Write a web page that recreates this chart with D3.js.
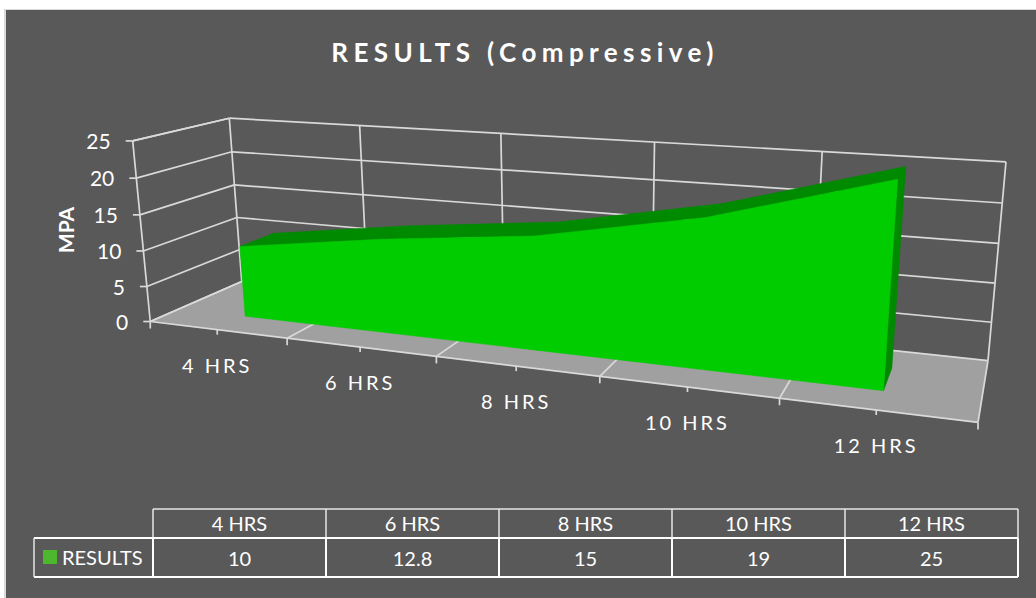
<!DOCTYPE html>
<html>
<head>
<meta charset="utf-8">
<script src="https://cdn.jsdelivr.net/npm/d3@7"></script>
<style>
html, body { margin: 0; padding: 0; background: #fff; }
text { font-family: Lato, "Open Sans", sans-serif; fill: #fff; }
</style>
</head>
<body>
<svg id="chart" width="1036" height="598" style="display:block"></svg>
<script>
var categories = ["4 HRS", "6 HRS", "8 HRS", "10 HRS", "12 HRS"];
var results = [10, 12.8, 15, 19, 25];
var valueTicks = [0, 5, 10, 15, 20, 25];
var tableRowLabel = "RESULTS";
var tableValues = ["10", "12.8", "15", "19", "25"];

var svg = d3.select("#chart");
svg.append("rect").attr("x", 4).attr("y", 9).attr("width", 1032).attr("height", 589).attr("fill", "#d9d9d9");
svg.append("rect").attr("x", 6).attr("y", 10).attr("width", 1030).attr("height", 588).attr("fill", "#595959");

// title
svg.append("text").attr("x", 525).attr("y", 62).attr("text-anchor", "middle")
	.style("font-size", "26px").style("font-weight", "bold").style("letter-spacing", "5.4px")
	.text("RESULTS (Compressive)");

// perspective box, fitted to the box corners: [u, v, w, screen x, screen y]
var corners = [
	[0, 0, 0, 150, 321], [1, 0, 0, 978, 423],
	[0, 1, 0, 242, 282], [1, 1, 0, 988, 360],
	[0, 0, 1, 133, 141], [0, 1, 1, 229, 118], [1, 1, 1, 1006, 162]
];

function solve(A, b){
	var n = b.length, M = A.map(function(r, i){ return r.concat(b[i]); });
	for (var i = 0; i < n; i++){
		var p = i;
		for (var k = i + 1; k < n; k++) if (Math.abs(M[k][i]) > Math.abs(M[p][i])) p = k;
		var t = M[i]; M[i] = M[p]; M[p] = t;
		for (var k = 0; k < n; k++){
			if (k == i) continue;
			var f = M[k][i] / M[i][i];
			for (var j = i; j <= n; j++) M[k][j] -= f * M[i][j];
		}
	}
	return M.map(function(r, i){ return r[n] / r[i]; });
}

// least squares for the 11 camera parameters
var rows = [], rhs = [];
corners.forEach(function(c){
	rows.push([c[0], c[1], c[2], 1, 0, 0, 0, 0, -c[3]*c[0], -c[3]*c[1], -c[3]*c[2]]); rhs.push(c[3]);
	rows.push([0, 0, 0, 0, c[0], c[1], c[2], 1, -c[4]*c[0], -c[4]*c[1], -c[4]*c[2]]); rhs.push(c[4]);
});
var ata = d3.range(11).map(function(i){ return d3.range(11).map(function(j){ return d3.sum(rows, function(r){ return r[i]*r[j]; }); }); });
var atb = d3.range(11).map(function(i){ return d3.sum(rows, function(r, k){ return r[i]*rhs[k]; }); });
var cam = solve(ata, atb);

function project(u, v, w){
	var d = cam[8]*u + cam[9]*v + cam[10]*w + 1;
	return [(cam[0]*u + cam[1]*v + cam[2]*w + cam[3]) / d, (cam[4]*u + cam[5]*v + cam[6]*w + cam[7]) / d];
}

var xScale = d3.scalePoint().domain(categories).range([0.1, 0.9]);
var yScale = d3.scaleLinear().domain([0, 25]).range([0, 1]);
var line = d3.line();
var gridColor = "#d9d9d9";

function seg(a, b, w, color){
	svg.append("path").attr("d", line([a, b])).attr("fill", "none")
		.attr("stroke", color || gridColor).attr("stroke-width", w || 1.7);
}
function poly(pts, fill){
	svg.append("path").attr("d", line(pts) + "Z").attr("fill", fill).attr("stroke", fill).attr("stroke-width", 0.5);
}

// floor
poly([project(0,0,0), project(1,0,0), project(1,1,0), project(0,1,0)], "#a0a0a0");

// walls
seg(project(0,1,0), project(0,1,1));
seg(project(1,1,0), project(1,1,1));
seg(project(0,0,0), project(0,0,1));
seg(project(0,0,1), project(0,1,1));
seg(project(0,0,0), project(0,1,0));
seg(project(1,1,0), project(1,0,0));
valueTicks.forEach(function(t){
	var w = yScale(t);
	seg(project(0,1,w), project(1,1,w));
	seg(project(0,1,w), project(0,0,w));
	var p = project(0,0,w);
	seg(p, [p[0] - 7, p[1]]);
	svg.append("text").attr("x", p[0] - 22).attr("y", p[1] + 8).attr("text-anchor", "end")
		.style("font-size", "21px").text(t);
});

// category dividers on back wall and floor
d3.range(0, 1.01, 0.2).forEach(function(u){
	if (u > 0 && u < 0.99){
		seg(project(u,1,0), project(u,1,1));
		seg(project(u,0,0), project(u,1,0));
	}
	var p = project(u,0,0);
	seg(p, [p[0], p[1] + 7]);
});
seg(project(0,0,0), project(1,0,0));

categories.forEach(function(c){
	var p = project(xScale(c),0,0);
	seg(p, [p[0], p[1] + 5]);
	svg.append("text").attr("x", p[0]).attr("y", p[1] + 43).attr("text-anchor", "middle")
		.style("font-size", "20px").style("letter-spacing", "3px").text(c);
});

svg.append("text").attr("transform", "translate(74,230) rotate(-90)").attr("text-anchor", "middle")
	.style("font-size", "21px").style("font-weight", "bold").text("MPA");

// the area itself
var vFront = 0.3, vBack = 0.68;
var lastCat = categories[categories.length - 1], firstCat = categories[0];
var frontTop = categories.map(function(c, i){ return project(xScale(c), vFront, yScale(results[i])); });
var backTop = categories.map(function(c, i){ return project(xScale(c), vBack, yScale(results[i])); });

// top strip, segment by segment
categories.forEach(function(c, i){
	if (i == 0) return;
	poly([frontTop[i-1], frontTop[i], backTop[i], backTop[i-1]], "#008a00");
});
// right end
poly([project(xScale(lastCat), vFront, 0), project(xScale(lastCat), vBack, 0), backTop[4], frontTop[4]], "#008a00");
// front
poly([project(xScale(firstCat), vFront, 0)].concat(frontTop, [project(xScale(lastCat), vFront, 0)]), "#00cc00");

// data table
var colX = [153, 326, 499, 672, 845, 1018];
var rowY = [509, 538, 577];
var headColor = "#e6e6e6", tableColor = "#ffffff";
colX.forEach(function(x){
	seg([x, rowY[0]], [x, rowY[1]], 1.5, headColor);
	seg([x, rowY[1]], [x, rowY[2]], 2, tableColor);
});
seg([colX[0], rowY[0]], [colX[5], rowY[0]], 1.5, headColor);
seg([34, rowY[1]], [colX[5], rowY[1]], 1.8, tableColor);
seg([34, rowY[2]], [colX[5], rowY[2]], 2, tableColor);
seg([34, rowY[1]], [34, rowY[2]], 1.5, headColor);
categories.forEach(function(c, i){
	svg.append("text").attr("x", (colX[i] + colX[i+1]) / 2).attr("y", 531).attr("text-anchor", "middle")
		.style("font-size", "20px").text(c);
	svg.append("text").attr("x", (colX[i] + colX[i+1]) / 2).attr("y", 566).attr("text-anchor", "middle")
		.style("font-size", "20px").text(tableValues[i]);
});
svg.append("rect").attr("x", 43).attr("y", 550).attr("width", 14).attr("height", 14).attr("fill", "#4db82e");
svg.append("text").attr("x", 62).attr("y", 565).style("font-size", "20px").text(tableRowLabel);
</script>
</body>
</html>
